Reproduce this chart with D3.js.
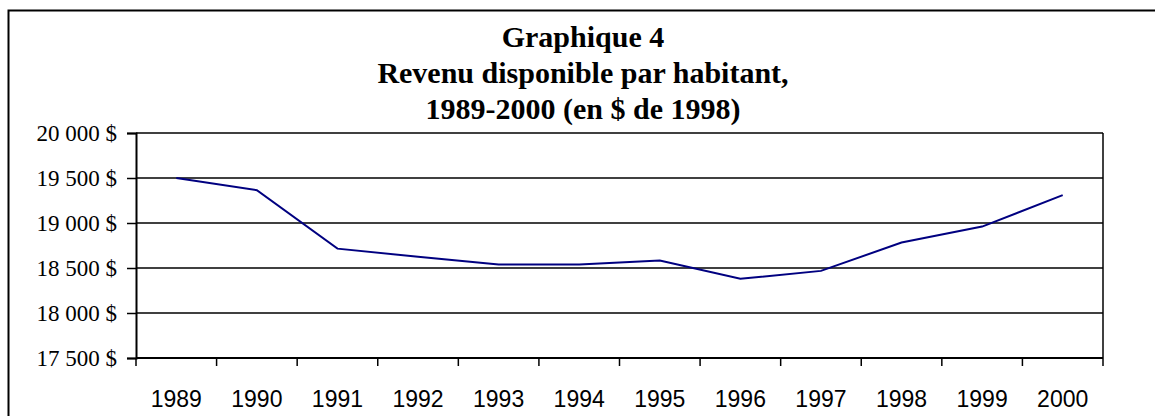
<!DOCTYPE html>
<html>
<head>
<meta charset="utf-8">
<script src="https://cdn.jsdelivr.net/npm/d3@7"></script>
<style>
  body { margin: 0; background: #fff; }
  svg { display: block; }
</style>
</head>
<body>
<svg id="chart" width="1155" height="416"></svg>
<script>
const years = ["1989", "1990", "1991", "1992", "1993", "1994", "1995", "1996", "1997", "1998", "1999", "2000"];
const revenu = [19500, 19365, 18715, 18625, 18540, 18540, 18583, 18380, 18468, 18783, 18960, 19310];
const yTicks = [17500, 18000, 18500, 19000, 19500, 20000];
const yTickLabels = ["17 500 $", "18 000 $", "18 500 $", "19 000 $", "19 500 $", "20 000 $"];
const titleLines = ["Graphique 4", "Revenu disponible par habitant,", "1989-2000 (en $ de 1998)"];

const width = 1155, height = 416;
const margin = {left: 136, right: 52, top: 133, bottom: 58};

const svg = d3.select("#chart");

// cadre (coupé à droite et en bas)
svg.append("path")
  .attr("d", `M8.5,${height} L8.5,10.5 L${width},10.5`)
  .attr("fill", "none")
  .attr("stroke", "#000")
  .attr("stroke-width", 2);

// titre
svg.append("g")
  .selectAll("text")
  .data(titleLines)
  .join("text")
  .attr("x", 583)
  .attr("y", (d, i) => 47 + i * 36)
  .attr("text-anchor", "middle")
  .attr("font-family", "'Liberation Serif', 'Times New Roman', serif")
  .attr("font-weight", "bold")
  .attr("font-size", 30)
  .text(d => d);

const x = d3.scaleBand()
  .domain(years)
  .range([margin.left, width - margin.right])
  .padding(0);

const y = d3.scaleLinear()
  .domain([17500, 20000])
  .range([height - margin.bottom, margin.top]);

// lignes de quadrillage
svg.append("g")
  .selectAll("line")
  .data(yTicks)
  .join("line")
  .attr("x1", margin.left)
  .attr("x2", width - margin.right)
  .attr("y1", d => y(d))
  .attr("y2", d => y(d))
  .attr("stroke", "#000")
  .attr("stroke-width", 1.5);

// bord droit
svg.append("line")
  .attr("x1", width - margin.right)
  .attr("x2", width - margin.right)
  .attr("y1", y(20000))
  .attr("y2", y(17500))
  .attr("stroke", "#000")
  .attr("stroke-width", 1.5);

// axe Y
const yAxis = d3.axisLeft(y)
  .tickValues(yTicks)
  .tickSize(9)
  .tickPadding(10)
  .tickFormat((d, i) => yTickLabels[i]);

const gy = svg.append("g")
  .attr("transform", `translate(${margin.left},0)`)
  .call(yAxis);
gy.select(".domain").attr("stroke", "#000").attr("stroke-width", 2);
gy.selectAll(".tick line").attr("stroke", "#000").attr("stroke-width", 1.5);
gy.selectAll(".tick text")
  .attr("font-family", "'Liberation Serif', 'Times New Roman', serif")
  .attr("font-size", 23)
  .attr("fill", "#000");

// axe X : graduations entre les catégories
const xEdges = years.map(d => x(d)).concat([x(years[years.length - 1]) + x.bandwidth()]);
const gx = svg.append("g");
gx.append("line")
  .attr("x1", margin.left)
  .attr("x2", width - margin.right)
  .attr("y1", y(17500))
  .attr("y2", y(17500))
  .attr("stroke", "#000")
  .attr("stroke-width", 2);
gx.selectAll("line.tick")
  .data(xEdges)
  .join("line")
  .attr("class", "tick")
  .attr("x1", d => d)
  .attr("x2", d => d)
  .attr("y1", y(17500))
  .attr("y2", y(17500) + 8)
  .attr("stroke", "#000")
  .attr("stroke-width", 1.5);
gx.selectAll("text")
  .data(years)
  .join("text")
  .attr("x", d => x(d) + x.bandwidth() / 2)
  .attr("y", y(17500) + 49)
  .attr("text-anchor", "middle")
  .attr("font-family", "'Liberation Sans', Arial, sans-serif")
  .attr("font-size", 23)
  .attr("fill", "#000")
  .text(d => d);

// série
const line = d3.line()
  .x((d, i) => x(years[i]) + x.bandwidth() / 2)
  .y(d => y(d));

svg.append("path")
  .datum(revenu)
  .attr("d", line)
  .attr("fill", "none")
  .attr("stroke", "#000080")
  .attr("stroke-width", 2);
</script>
</body>
</html>
